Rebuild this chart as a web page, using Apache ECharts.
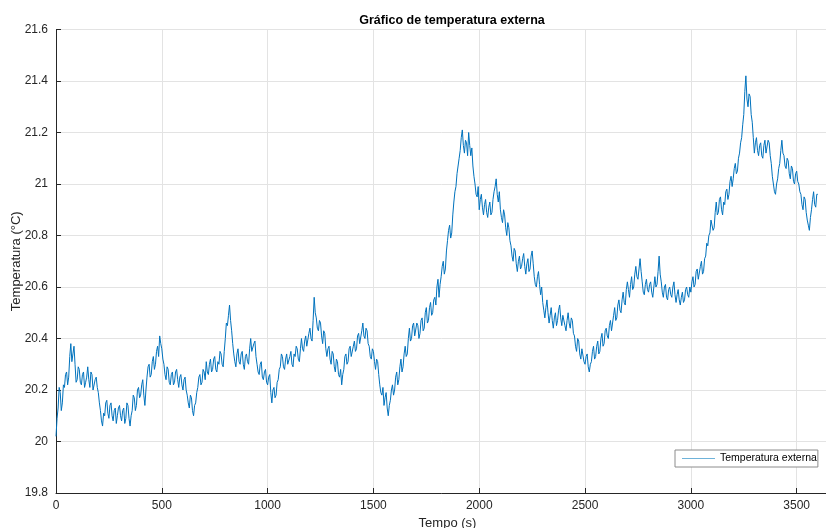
<!DOCTYPE html>
<html>
<head>
<meta charset="utf-8">
<script src="https://cdn.jsdelivr.net/npm/echarts@6/dist/echarts.min.js"></script>
<style>
  html, body { margin: 0; padding: 0; background: #ffffff; }
  #chart { width: 826px; height: 528px; }
</style>
</head>
<body>
<div id="chart"></div>
<script>
// Outdoor temperature log, one reading every 5 s (0 .. 3600 s), 100 s per row
const sampleStep = 5;
const temperature = [
  20.02, 20.09, 20.13, 20.21, 20.19, 20.12, 20.15, 20.22, 20.21, 20.26, 20.27, 20.22, 20.25, 20.33, 20.38, 20.31, 20.34, 20.37, 20.30, 20.23,
  20.24, 20.29, 20.28, 20.23, 20.22, 20.26, 20.27, 20.21, 20.23, 20.25, 20.29, 20.24, 20.21, 20.27, 20.26, 20.20, 20.20, 20.24, 20.25, 20.21,
  20.19, 20.15, 20.12, 20.08, 20.06, 20.11, 20.10, 20.15, 20.16, 20.11, 20.09, 20.14, 20.15, 20.10, 20.08, 20.12, 20.13, 20.07, 20.10, 20.13,
  20.14, 20.10, 20.08, 20.12, 20.13, 20.07, 20.09, 20.15, 20.14, 20.09, 20.06, 20.10, 20.12, 20.18, 20.17, 20.12, 20.14, 20.20, 20.21, 20.17,
  20.18, 20.22, 20.24, 20.18, 20.14, 20.20, 20.25, 20.29, 20.30, 20.25, 20.26, 20.31, 20.33, 20.28, 20.30, 20.35, 20.37, 20.33, 20.41, 20.38,
  20.36, 20.32, 20.30, 20.26, 20.24, 20.29, 20.28, 20.23, 20.22, 20.26, 20.27, 20.22, 20.23, 20.27, 20.28, 20.24, 20.21, 20.25, 20.26, 20.22,
  20.20, 20.24, 20.25, 20.20, 20.18, 20.15, 20.13, 20.18, 20.17, 20.12, 20.10, 20.14, 20.15, 20.19, 20.21, 20.25, 20.26, 20.22, 20.23, 20.28,
  20.27, 20.24, 20.31, 20.27, 20.26, 20.30, 20.32, 20.27, 20.28, 20.32, 20.33, 20.28, 20.27, 20.31, 20.30, 20.35, 20.34, 20.30, 20.29, 20.35,
  20.40, 20.46, 20.45, 20.49, 20.53, 20.47, 20.43, 20.38, 20.34, 20.31, 20.29, 20.34, 20.36, 20.31, 20.30, 20.34, 20.35, 20.30, 20.28, 20.33,
  20.34, 20.31, 20.30, 20.36, 20.40, 20.35, 20.35, 20.38, 20.39, 20.33, 20.30, 20.27, 20.26, 20.30, 20.31, 20.25, 20.24, 20.27, 20.28, 20.23,
  20.22, 20.25, 20.26, 20.19, 20.15, 20.20, 20.21, 20.17, 20.18, 20.23, 20.24, 20.28, 20.29, 20.34, 20.33, 20.29, 20.28, 20.32, 20.34, 20.30,
  20.30, 20.33, 20.35, 20.30, 20.29, 20.34, 20.33, 20.37, 20.36, 20.32, 20.31, 20.36, 20.40, 20.36, 20.35, 20.39, 20.41, 20.37, 20.37, 20.42,
  20.44, 20.40, 20.39, 20.47, 20.56, 20.50, 20.48, 20.44, 20.43, 20.47, 20.46, 20.41, 20.38, 20.43, 20.42, 20.36, 20.33, 20.36, 20.37, 20.32,
  20.30, 20.35, 20.34, 20.29, 20.27, 20.32, 20.31, 20.26, 20.25, 20.28, 20.22, 20.26, 20.28, 20.33, 20.34, 20.30, 20.31, 20.36, 20.37, 20.33,
  20.33, 20.37, 20.39, 20.35, 20.36, 20.41, 20.42, 20.38, 20.38, 20.43, 20.46, 20.41, 20.40, 20.44, 20.43, 20.38, 20.37, 20.33, 20.32, 20.36,
  20.35, 20.31, 20.28, 20.32, 20.31, 20.26, 20.22, 20.19, 20.18, 20.21, 20.14, 20.17, 20.19, 20.13, 20.10, 20.14, 20.16, 20.20, 20.22, 20.18,
  20.20, 20.25, 20.27, 20.22, 20.24, 20.29, 20.32, 20.27, 20.29, 20.34, 20.37, 20.33, 20.34, 20.40, 20.44, 20.39, 20.40, 20.45, 20.46, 20.41,
  20.41, 20.46, 20.45, 20.40, 20.42, 20.47, 20.48, 20.43, 20.44, 20.50, 20.52, 20.46, 20.47, 20.52, 20.54, 20.49, 20.50, 20.55, 20.56, 20.53,
  20.60, 20.63, 20.56, 20.61, 20.64, 20.68, 20.70, 20.65, 20.67, 20.74, 20.78, 20.82, 20.84, 20.79, 20.81, 20.88, 20.93, 20.97, 20.99, 21.04,
  21.04, 21.10, 21.13, 21.18, 21.21, 21.15, 21.12, 21.17, 21.16, 21.11, 21.20, 21.15, 21.11, 21.14, 21.07, 21.03, 21.00, 20.96, 20.95, 20.99,
  20.90, 20.94, 20.96, 20.91, 20.88, 20.92, 20.94, 20.89, 20.87, 20.91, 20.93, 20.88, 20.89, 20.94, 20.97, 20.99, 21.02, 20.96, 20.93, 20.97,
  20.90, 20.87, 20.85, 20.90, 20.88, 20.83, 20.80, 20.85, 20.83, 20.78, 20.76, 20.72, 20.70, 20.75, 20.74, 20.69, 20.66, 20.70, 20.72, 20.67,
  20.68, 20.71, 20.73, 20.68, 20.65, 20.69, 20.71, 20.66, 20.67, 20.72, 20.74, 20.69, 20.64, 20.61, 20.60, 20.64, 20.66, 20.61, 20.57, 20.60,
  20.54, 20.51, 20.48, 20.52, 20.55, 20.50, 20.46, 20.49, 20.52, 20.47, 20.44, 20.48, 20.50, 20.45, 20.47, 20.51, 20.53, 20.48, 20.45, 20.49,
  20.49, 20.45, 20.43, 20.47, 20.50, 20.46, 20.44, 20.48, 20.47, 20.42, 20.41, 20.37, 20.35, 20.40, 20.39, 20.34, 20.32, 20.36, 20.36, 20.31,
  20.30, 20.33, 20.34, 20.29, 20.27, 20.30, 20.31, 20.35, 20.37, 20.32, 20.33, 20.37, 20.39, 20.34, 20.35, 20.40, 20.42, 20.37, 20.38, 20.43,
  20.44, 20.41, 20.40, 20.45, 20.47, 20.43, 20.43, 20.49, 20.52, 20.47, 20.48, 20.53, 20.55, 20.51, 20.50, 20.55, 20.58, 20.54, 20.53, 20.59,
  20.62, 20.59, 20.56, 20.61, 20.64, 20.59, 20.60, 20.65, 20.68, 20.64, 20.63, 20.67, 20.71, 20.66, 20.62, 20.58, 20.57, 20.61, 20.63, 20.59,
  20.58, 20.61, 20.62, 20.58, 20.56, 20.60, 20.64, 20.60, 20.61, 20.66, 20.72, 20.65, 20.62, 20.58, 20.56, 20.60, 20.61, 20.56, 20.55, 20.59,
  20.60, 20.57, 20.56, 20.60, 20.62, 20.57, 20.54, 20.57, 20.59, 20.55, 20.53, 20.56, 20.58, 20.54, 20.55, 20.59, 20.60, 20.57, 20.56, 20.60,
  20.58, 20.62, 20.64, 20.60, 20.61, 20.66, 20.67, 20.63, 20.63, 20.68, 20.70, 20.65, 20.66, 20.71, 20.72, 20.77, 20.76, 20.80, 20.81, 20.86,
  20.86, 20.82, 20.83, 20.89, 20.93, 20.88, 20.89, 20.94, 20.95, 20.90, 20.88, 20.93, 20.92, 20.97, 20.98, 20.94, 20.96, 21.01, 21.03, 20.99,
  21.02, 21.06, 21.08, 21.04, 21.05, 21.10, 21.12, 21.16, 21.18, 21.23, 21.27, 21.36, 21.42, 21.33, 21.30, 21.35, 21.34, 21.27, 21.24, 21.18,
  21.12, 21.16, 21.18, 21.13, 21.11, 21.15, 21.16, 21.11, 21.10, 21.15, 21.17, 21.12, 21.12, 21.17, 21.16, 21.11, 21.08, 21.03, 21.00, 20.97,
  20.96, 21.00, 21.02, 21.06, 21.08, 21.13, 21.17, 21.12, 21.11, 21.07, 21.06, 21.10, 21.09, 21.04, 21.02, 21.07, 21.06, 21.01, 21.00, 21.04,
  21.05, 21.01, 21.00, 20.97, 20.96, 20.92, 20.90, 20.95, 20.94, 20.89, 20.86, 20.84, 20.82, 20.87, 20.90, 20.94, 20.97, 20.92, 20.91, 20.96,
  20.96
];
const xTicks = [0, 500, 1000, 1500, 2000, 2500, 3000, 3500];
const yTicks = [19.8, 20, 20.2, 20.4, 20.6, 20.8, 21, 21.2, 21.4, 21.6];

const seriesData = temperature.map((v, i) => [i * sampleStep, v]);

const axisColor = '#262626';
const gridColor = '#e3e3e3';
const font = 'Liberation Sans, Arial, Helvetica, sans-serif';

const chart = echarts.init(document.getElementById('chart'), null, { renderer: 'canvas' });
chart.setOption({
  animation: false,
  backgroundColor: '#ffffff',
  title: {
    text: 'Gráfico de temperatura externa',
    left: 447,
    textAlign: 'center',
    top: 9,
    textStyle: { fontFamily: font, fontSize: 12.5, fontWeight: 'bold', color: '#000000' }
  },
  grid: {
    left: 56, top: 29.5, width: 783, height: 463.5,
    containLabel: false,
    outerBoundsMode: 'none'
  },
  legend: {
    data: [{ name: 'Temperatura externa', icon: 'rect' }],
    left: 675,
    top: 450,
    orient: 'horizontal',
    backgroundColor: '#ffffff',
    borderColor: '#8c8c8c',
    borderWidth: 1,
    borderRadius: 0,
    padding: [3, 1, 3, 7],
    itemWidth: 33,
    itemHeight: 1,
    itemGap: 5,
    itemStyle: { color: '#6fb3da' },
    textStyle: { fontFamily: font, fontSize: 10.5, color: '#000000', padding: [0, 0, 0, 0] }
  },
  xAxis: {
    type: 'value',
    min: xTicks[0],
    max: 3700,
    interval: 500,
    name: 'Tempo (s)',
    nameLocation: 'middle',
    nameGap: 21,
    nameTextStyle: { fontFamily: font, fontSize: 13, color: axisColor },
    axisLine: { show: true, onZero: false, lineStyle: { color: axisColor, width: 1 } },
    axisTick: { show: true, inside: true, length: 5, lineStyle: { color: axisColor } },
    axisLabel: {
      fontFamily: font, fontSize: 12, color: axisColor, margin: 7,
      showMaxLabel: false,
      formatter: v => (xTicks.includes(v) ? String(v) : '')
    },
    splitLine: { show: true, lineStyle: { color: gridColor, width: 1 } }
  },
  yAxis: {
    type: 'value',
    min: yTicks[0],
    max: yTicks[yTicks.length - 1],
    interval: 0.2,
    name: 'Temperatura (°C)',
    nameLocation: 'middle',
    nameGap: 33,
    nameMoveOverlap: false,
    nameTextStyle: { fontFamily: font, fontSize: 13, color: axisColor },
    axisLine: { show: true, lineStyle: { color: axisColor, width: 1 } },
    axisTick: { show: true, inside: true, length: 5, lineStyle: { color: axisColor } },
    axisLabel: {
      fontFamily: font, fontSize: 12, color: axisColor, margin: 8,
      formatter: v => String(Math.round(v * 10) / 10)
    },
    splitLine: { show: true, lineStyle: { color: gridColor, width: 1 } }
  },
  series: [{
    name: 'Temperatura externa',
    type: 'line',
    data: seriesData,
    showSymbol: false,
    symbol: 'none',
    lineStyle: { color: '#0072BD', width: 1 },
    itemStyle: { color: '#0072BD' },
    clip: true
  }]
});
</script>
</body>
</html>
